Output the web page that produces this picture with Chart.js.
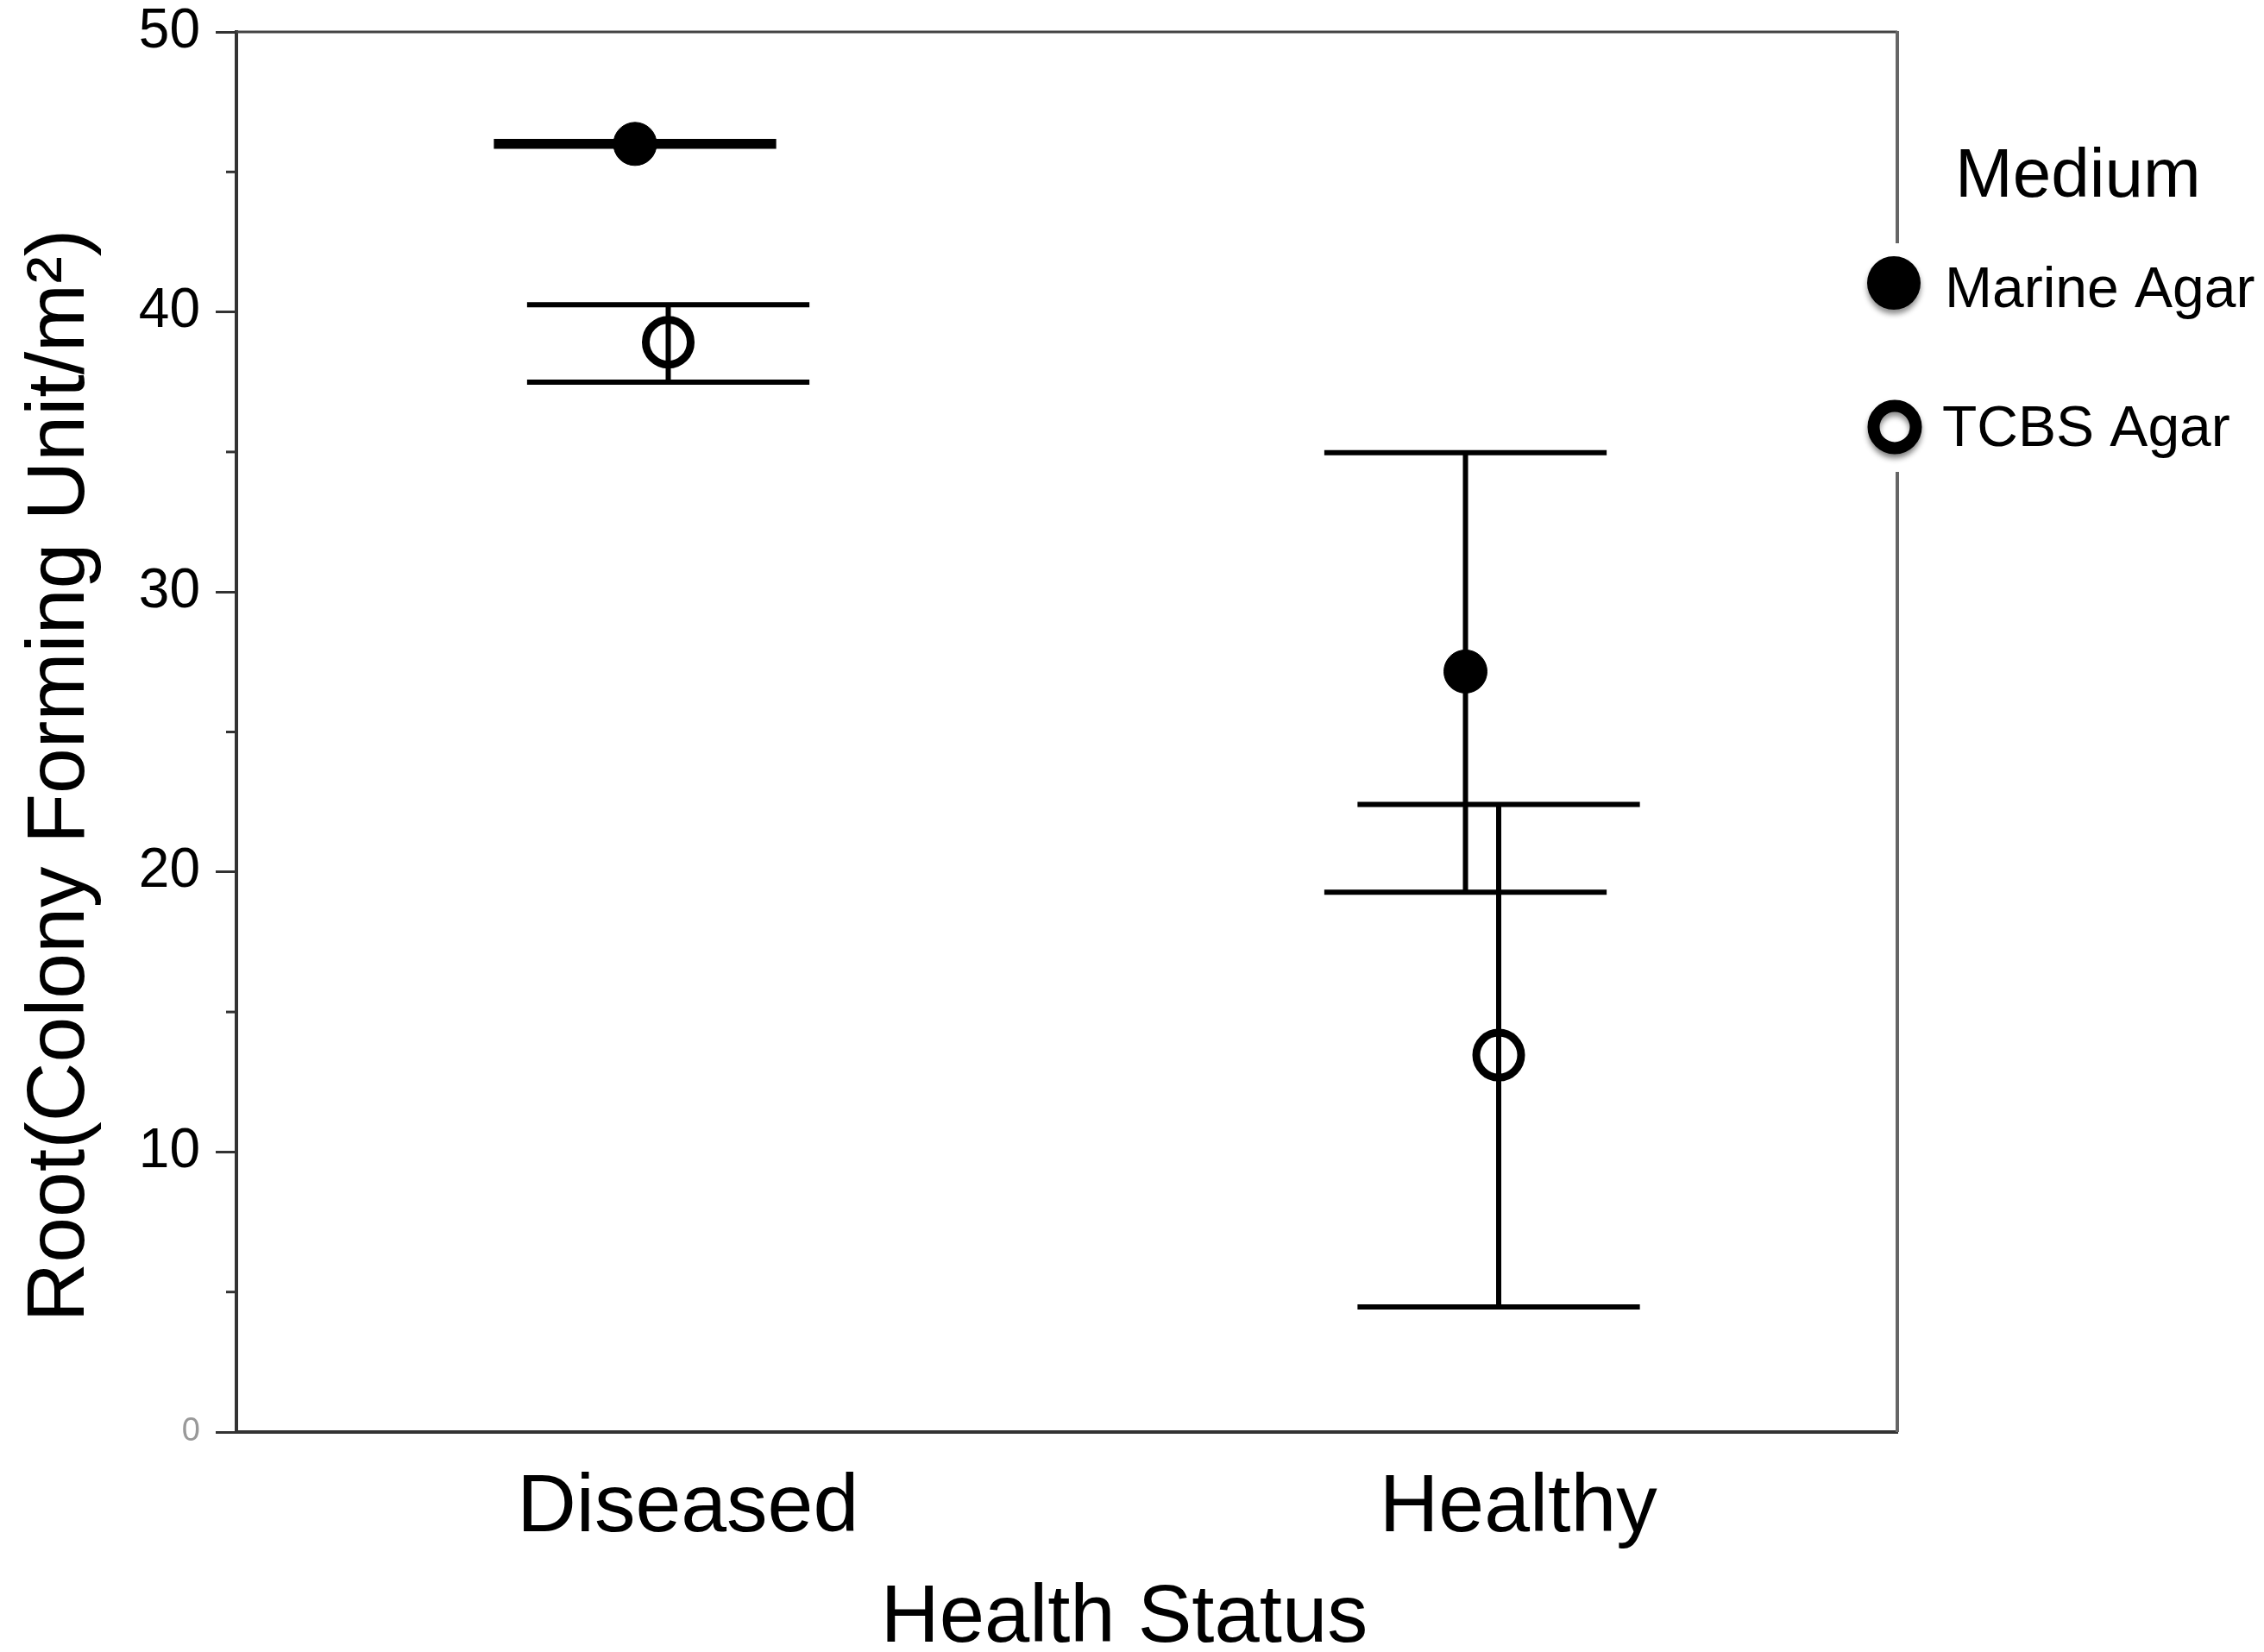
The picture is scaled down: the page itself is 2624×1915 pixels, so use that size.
<!DOCTYPE html>
<html>
<head>
<meta charset="utf-8">
<script src="https://cdn.jsdelivr.net/npm/chart.js@4.4.1/dist/chart.umd.min.js"></script>
<style>
  html, body { margin: 0; padding: 0; background: #fff; }
  #wrap { width: 2624px; height: 1915px; position: relative; }
</style>
</head>
<body>
<div id="wrap"><canvas id="grafica"></canvas></div>
<script>
// Datos
const categories = ['Diseased', 'Healthy'];
const seriesNames = ['Marine Agar', 'TCBS Agar'];
const marineMean = [46.0, 27.16];
const marineLow = [45.915, 19.28];
const marineHigh = [46.085, 34.97];
const tcbsMean = [38.92, 13.46];
const tcbsLow = [37.49, 4.47];
const tcbsHigh = [40.26, 22.41];
const yMinorTicks = [5, 15, 25, 35, 45];

const FONT = "'Liberation Sans', Arial, Helvetica, sans-serif";
const dodge = 0.02;     // separación horizontal entre medios
const capHalf = 0.17;   // media anchura de las barras de error

const toPoints = (means, shift) => means.map((v, i) => ({ x: i + shift, y: v }));

// Barras de error, marco, ticks menores, títulos y leyenda
const decor = {
    id: 'decor',
    beforeDatasetsDraw(chart) {
        const { ctx, scales: { x, y } } = chart;
        ctx.save();
        ctx.strokeStyle = '#000';
        ctx.lineWidth = 6;
        chart.data.datasets.forEach(ds => {
            ds.data.forEach((p, i) => {
                const px = x.getPixelForValue(p.x);
                const yl = y.getPixelForValue(ds.lows[i]);
                const yh = y.getPixelForValue(ds.highs[i]);
                const xl = x.getPixelForValue(p.x - capHalf);
                const xr = x.getPixelForValue(p.x + capHalf);
                ctx.beginPath();
                ctx.moveTo(px, yl); ctx.lineTo(px, yh);
                ctx.moveTo(xl, yl); ctx.lineTo(xr, yl);
                ctx.moveTo(xl, yh); ctx.lineTo(xr, yh);
                ctx.stroke();
            });
        });
        ctx.restore();
    },
    afterDraw(chart) {
        const { ctx, chartArea: a, scales: { y } } = chart;
        ctx.save();
        // marco superior y derecho
        ctx.strokeStyle = '#444';
        ctx.lineWidth = 3;
        ctx.beginPath();
        ctx.moveTo(a.left, a.top); ctx.lineTo(a.right, a.top);
        ctx.stroke();
        ctx.strokeStyle = '#666';
        ctx.lineWidth = 4;
        ctx.beginPath();
        ctx.moveTo(a.right, a.top - 1); ctx.lineTo(a.right, a.bottom);
        ctx.stroke();
        // ticks menores
        ctx.strokeStyle = '#333';
        ctx.lineWidth = 3;
        yMinorTicks.forEach(v => {
            const py = y.getPixelForValue(v);
            ctx.beginPath();
            ctx.moveTo(a.left - 12, py); ctx.lineTo(a.left, py);
            ctx.stroke();
        });
        // títulos de ejes
        ctx.fillStyle = '#000';
        ctx.textAlign = 'center';
        ctx.textBaseline = 'alphabetic';
        ctx.font = '94px ' + FONT;
        ctx.fillText('Health Status', 1303, 1903);
        ctx.translate(97, 899);
        ctx.rotate(-Math.PI / 2);
        ctx.font = '95px ' + FONT;
        ctx.fillText('Root(Colony Forming Unit/m²)', 0, 0);
        ctx.restore();

        // leyenda
        ctx.save();
        ctx.fillStyle = '#fff';
        ctx.fillRect(a.right - 40, 282, 2624 - a.right + 40, 265);
        ctx.fillStyle = '#000';
        ctx.textAlign = 'left';
        ctx.font = '80px ' + FONT;
        ctx.fillText('Medium', 2266, 228);
        ctx.font = '66px ' + FONT;
        ctx.fillText(seriesNames[0], 2254, 356);
        ctx.fillText(seriesNames[1], 2251, 517);
        ctx.shadowColor = 'rgba(0,0,0,0.45)';
        ctx.shadowBlur = 6;
        ctx.shadowOffsetY = 5;
        ctx.beginPath();
        ctx.arc(a.right - 4, 328, 31, 0, Math.PI * 2);
        ctx.fill();
        ctx.beginPath();
        ctx.arc(a.right - 3, 495, 24.5, 0, Math.PI * 2);
        ctx.fillStyle = '#fff';
        ctx.fill();
        ctx.lineWidth = 14;
        ctx.strokeStyle = '#000';
        ctx.stroke();
        ctx.restore();
    }
};

const ctxG = document.getElementById('grafica').getContext('2d');
const grafica = new Chart(ctxG, {
    type: 'scatter',
    data: {
        datasets: [{
            label: seriesNames[0],
            data: toPoints(marineMean, -dodge),
            lows: marineLow,
            highs: marineHigh,
            pointStyle: 'circle',
            pointRadius: 25,
            pointBackgroundColor: '#000',
            pointBorderColor: '#000',
            pointBorderWidth: 1
        }, {
            label: seriesNames[1],
            data: toPoints(tcbsMean, dodge),
            lows: tcbsLow,
            highs: tcbsHigh,
            pointStyle: 'circle',
            pointRadius: 26,
            pointBackgroundColor: 'rgba(0,0,0,0)',
            pointBorderColor: '#000',
            pointBorderWidth: 9
        }]
    },
    options: {
        responsive: true,
        maintainAspectRatio: false,
        animation: false,
        layout: { padding: { top: 37, right: 425, bottom: 0, left: 0 } },
        plugins: {
            legend: { display: false },
            tooltip: { enabled: false }
        },
        scales: {
            x: {
                type: 'linear',
                min: -0.5,
                max: 1.5,
                afterBuildTicks: s => { s.ticks = categories.map((c, i) => ({ value: i })); },
                afterFit: s => { s.height = 255; s.paddingLeft = 0; s.paddingRight = 0; },
                ticks: {
                    callback: v => categories[v],
                    color: '#000',
                    padding: 32,
                    labelOffset: 42,
                    font: { family: FONT, size: 95 }
                },
                grid: { drawOnChartArea: false, drawTicks: false },
                border: { display: true, color: '#333', width: 4 }
            },
            y: {
                min: 0,
                max: 50,
                afterFit: s => { s.width = 274; s.paddingTop = 0; s.paddingBottom = 0; },
                ticks: {
                    stepSize: 10,
                    padding: 18,
                    color: c => (c.tick && c.tick.value === 0) ? '#999' : '#000',
                    font: c => (c.tick && c.tick.value === 0)
                        ? { family: FONT, size: 38 }
                        : { family: FONT, size: 64 }
                },
                grid: { drawOnChartArea: false, drawTicks: true, tickLength: 24, tickWidth: 3, tickColor: '#333' },
                border: { display: true, color: '#333', width: 4 }
            }
        }
    },
    plugins: [decor]
});
</script>
</body>
</html>
